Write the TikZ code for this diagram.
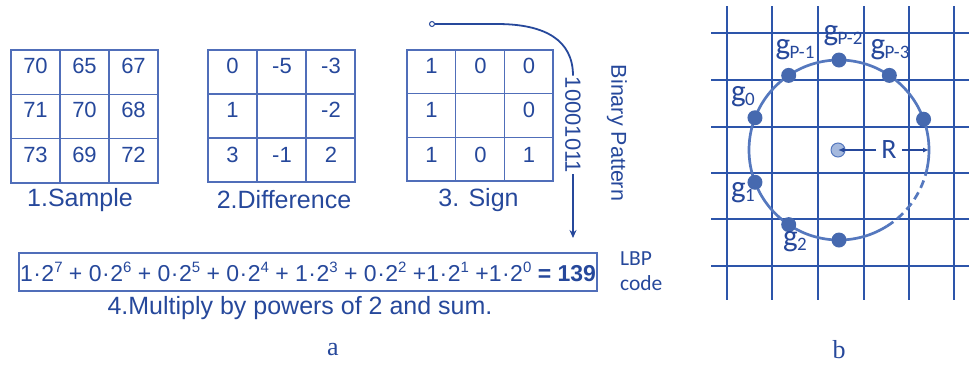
\documentclass[tikz,border=0pt]{standalone}
\usepackage{fontspec}
\setmainfont{Liberation Sans}
\newfontfamily\calfont{Carlito}
\newfontfamily\serfont{Liberation Serif}
\usetikzlibrary{arrows.meta}

\definecolor{ink}{RGB}{38,72,155}
\definecolor{gridA}{RGB}{80,110,185}
\definecolor{gridB}{RGB}{45,85,170}
\definecolor{ring}{RGB}{85,120,190}
\definecolor{dotfill}{RGB}{70,105,175}
\definecolor{centerfill}{RGB}{165,185,222}

% power of two with a raised exponent
\newcommand\pw[1]{\raisebox{0.42em}{\fontsize{15}{15}\selectfont#1}}
\newcommand\tm[2]{#1\kern0.5pt·\kern0.5pt2\pw{#2}}
% neighbour label g with a subscript
\newcommand\glab[1]{{\fontsize{31}{32}\selectfont g}\kern-0.5pt\raisebox{-3.5pt}{\fontsize{19}{20}\selectfont #1}}

\begin{document}
\begin{tikzpicture}[x=1pt,y=-1pt,
  cellnum/.style={font=\fontsize{22}{24}\selectfont, text=ink, inner sep=0},
  lbl/.style={font=\fontsize{25}{28}\selectfont, text=ink, inner sep=0},
  gridlineA/.style={draw=gridA, line width=1.4},
  gridlineB/.style={draw=gridB, line width=1.8},
  gdot/.style={circle, fill=dotfill, minimum size=15, inner sep=0},
  glabel/.style={font=\calfont, text=ink, inner sep=0},
  codelbl/.style={font=\calfont\fontsize{21.5}{22}\selectfont, text=ink, inner sep=0, anchor=base west},
  flow/.style={draw=ink, line width=1.8},
  tip/.style={-{Stealth[length=8,width=7]}},
]
\useasboundingbox (0,0) rectangle (969,365);

% ---------- panel a: the three 3x3 grids ----------
\foreach \x/\w/\h in {11/147/133, 208/147/132, 407/146/131}{
  \draw[gridlineA] (\x,50) rectangle ++(\w,\h);
  \foreach \i in {1,2}{
    \draw[gridlineA] ({\x+\i*\w/3},50) -- ++(0,\h);
    \draw[gridlineA] (\x,{50+\i*\h/3}) -- ++(\w,0);
  }
}

% sample values
\node[cellnum] (s11) at (35.5,66) {70};
\node[cellnum] (s12) at (84.5,66) {65};
\node[cellnum] (s13) at (133.5,66) {67};
\node[cellnum] (s21) at (35.5,110) {71};
\node[cellnum] (s22) at (84.5,110) {70};
\node[cellnum] (s23) at (133.5,110) {68};
\node[cellnum] (s31) at (35.5,155) {73};
\node[cellnum] (s32) at (84.5,155) {69};
\node[cellnum] (s33) at (133.5,155) {72};

% differences to the centre
\node[cellnum] (d11) at (232.5,66) {0};
\node[cellnum] (d12) at (282,66) {-5};
\node[cellnum] (d13) at (331,66) {-3};
\node[cellnum] (d21) at (232.5,110) {1};
\node[cellnum] (d23) at (331,110) {-2};
\node[cellnum] (d31) at (232.5,155) {3};
\node[cellnum] (d32) at (282,155) {-1};
\node[cellnum] (d33) at (331,155) {2};

% signs
\node[cellnum] (g11) at (431.5,66) {1};
\node[cellnum] (g12) at (480.5,66) {0};
\node[cellnum] (g13) at (529,66) {0};
\node[cellnum] (g21) at (431.5,110) {1};
\node[cellnum] (g23) at (529,110) {0};
\node[cellnum] (g31) at (431.5,155) {1};
\node[cellnum] (g32) at (480.5,155) {0};
\node[cellnum] (g33) at (529,155) {1};

% step captions
\node[lbl] (cap1) at (80,200) {1.Sample};
\node[lbl] (cap2) at (284,200) {2.Difference};
\node[lbl] (cap3) at (478.5,200) {3. Sign};

% binary pattern read around the neighbourhood
\node[circle, draw=ink, fill=white, line width=1, minimum size=5, inner sep=0] (start) at (432,24) {};
\node[cellnum, rotate=-90, inner sep=1] (bits) at (573,125) {10001011};
\coordinate (bend) at (497,24);
\coordinate (codein) at (573,238);
\draw[flow] (start) -- (bend) .. controls (545,24) and (573,40) .. (bits.west);
\draw[flow, tip] (bits.east) -- (codein);
\node[font=\fontsize{21.5}{24}\selectfont, text=ink, rotate=-90, inner sep=0] (bp) at (617,133) {Binary Pattern};

% weighted sum
\node[draw=gridA, line width=1.3, minimum width=578, minimum height=38, inner sep=0,
      font=\fontsize{23}{26}\selectfont, text=ink] (eq) at (308,272)
  {\tm{1}{7} + \tm{0}{6} + \tm{0}{5} + \tm{0}{4} + \tm{1}{3} + \tm{0}{2} +\tm{1}{1} +\tm{1}{0} \textbf{= 139}};
\node[codelbl] (lbp) at (620,265) {LBP};
\node[codelbl] (code) at (620,290) {code};
\node[lbl] (cap4) at (300,308) {4.Multiply by powers of 2 and sum.};
\node[font=\serfont\fontsize{26}{28}\selectfont, text=ink, inner sep=0] (pa) at (333,350) {a};

% ---------- panel b: circular neighbourhood on the pixel grid ----------
\foreach \x in {727,772,818,864,909,954}
  \draw[gridlineB] (\x,6) -- (\x,300);
\foreach \y in {33,80,127,173,219,266}
  \draw[gridlineB] (711,\y) -- (969,\y);

\coordinate (c) at (839,150);
\draw[ring, line width=2.7] plot[domain=-12:302, samples=160] ({839+90*cos(\x)},{150-90*sin(\x)});
\draw[ring, line width=2.7, dash pattern=on 8 off 5] plot[domain=-58:-12, samples=40] ({839+90*cos(\x)},{150-90*sin(\x)});

\node[gdot] (pR)  at ({839+90*cos(20)},{150-90*sin(20)}) {};
\node[gdot] (pP3) at ({839+90*cos(56)},{150-90*sin(56)}) {};
\node[gdot] (pP2) at ({839+90*cos(90)},{150-90*sin(90)}) {};
\node[gdot] (pP1) at ({839+90*cos(124)},{150-90*sin(124)}) {};
\node[gdot] (p0)  at ({839+90*cos(159)},{150-90*sin(159)}) {};
\node[gdot] (p1)  at ({839+90*cos(201)},{150-90*sin(201)}) {};
\node[gdot] (p2)  at ({839+90*cos(236)},{150-90*sin(236)}) {};
\node[gdot] (pB)  at ({839+90*cos(270)},{150-90*sin(270)}) {};

\node[glabel] (lP1) at (795,50) {\glab{P-1}};
\node[glabel] (lP2) at (843,36) {\glab{P-2}};
\node[glabel] (lP3) at (890,50) {\glab{P-3}};
\node[glabel] (l0)  at (743,97) {\glab{0}};
\node[glabel] (l1)  at (743,193) {\glab{1}};
\node[glabel] (l2)  at (795,242) {\glab{2}};

% centre pixel and radius
\node[circle, fill=centerfill, draw=ring, line width=1, minimum size=14, inner sep=0] (ctr) at (838,150) {};
\node[glabel, font=\calfont\fontsize{28}{28}\selectfont, inner sep=5] (R) at (889,150) {R};
\coordinate (redge) at (929,150);
\draw[draw=ink, line width=1.3, -{Latex[length=6,width=5]}] (R.west) -- (ctr.center);
\draw[draw=ink, line width=1.3, -{Latex[length=6,width=5]}] (R.east) -- (redge);

\node[font=\serfont\fontsize{26}{28}\selectfont, text=ink, inner sep=0] (pb) at (839,350) {b};
\end{tikzpicture}
\end{document}
